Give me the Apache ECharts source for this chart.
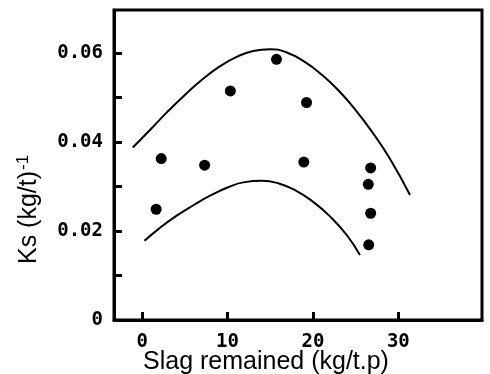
<!DOCTYPE html>
<html>
<head>
<meta charset="utf-8">
<script src="https://cdn.jsdelivr.net/npm/echarts@6/dist/echarts.min.js"></script>
<style>
html,body{margin:0;padding:0;background:#fff;}
#chart{width:490px;height:374px;}
</style>
</head>
<body>
<div id="chart"></div>
<script>
// Data
const pointsX = [1.64, 2.23, 7.31, 10.33, 15.73, 19.25, 18.93, 26.76, 26.48, 26.76, 26.53];
const pointsY = [0.0249, 0.0363, 0.0348, 0.0515, 0.0586, 0.0489, 0.0355, 0.0342, 0.0305, 0.0240, 0.0169];

const upperX = [-1.1, 1, 3, 5, 7, 9, 11, 13, 15, 17, 19, 21, 23, 25, 27, 29, 31.37];
const upperY = [0.0388, 0.0429, 0.0469, 0.0506, 0.0540, 0.0569, 0.0591, 0.0605, 0.0609, 0.0601, 0.0581, 0.0552, 0.0516, 0.0472, 0.0421, 0.0363, 0.0281];

const lowerX = [0.27, 2, 4, 6, 8, 10, 12, 14, 16, 18, 20, 22, 24, 25.5];
const lowerY = [0.0178, 0.0206, 0.0234, 0.0258, 0.0280, 0.0298, 0.0310, 0.0313, 0.0307, 0.0291, 0.0266, 0.0233, 0.0190, 0.0146];

const xTickValues = [0, 10, 20, 30];
const yTickValues = [0, 0.01, 0.02, 0.03, 0.04, 0.05, 0.06];
const yLabelValues = [0, 0.02, 0.04, 0.06];

const xTitle = 'Slag remained (kg/t.p)';
const yTitle = 'Ks (kg/t)';
const yTitleSup = '-1';

const zip = (a, b) => a.map((v, i) => [v, b[i]]);

const chart = echarts.init(document.getElementById('chart'), null, {renderer: 'canvas'});
const labelFont = {fontFamily: 'DejaVu Sans Mono', fontSize: 19, fontWeight: 'bold', color: '#000'};

chart.setOption({
  animation: false,
  backgroundColor: '#fff',
  grid: {left: 114, right: 8, top: 10, bottom: 54, show: true, borderColor: '#000', borderWidth: 3, backgroundColor: 'transparent'},
  xAxis: {
    type: 'value', min: -3.3, max: 39.8,
    splitLine: {show: false},
    axisLine: {show: true, onZero: false, lineStyle: {color: '#000', width: 3}},
    axisTick: {show: true, inside: true, length: 8, lineStyle: {color: '#000', width: 3}, customValues: xTickValues},
    axisLabel: Object.assign({margin: 13, customValues: xTickValues, formatter: v => String(v)}, labelFont)
  },
  yAxis: {
    type: 'value', min: 0, max: 0.0697,
    splitLine: {show: false},
    axisLine: {show: true, onZero: false, lineStyle: {color: '#000', width: 3}},
    axisTick: {show: true, inside: true, length: 8, lineStyle: {color: '#000', width: 3}, customValues: yTickValues},
    axisLabel: Object.assign({margin: 11, customValues: yLabelValues, formatter: v => (Math.abs(v) < 1e-9 ? '0' : v.toFixed(2))}, labelFont)
  },
  graphic: [
    {
      type: 'text', left: 143, top: 350,
      style: {text: xTitle, fontFamily: 'Liberation Sans', fontSize: 25, fill: '#000'}
    },
    {
      type: 'text', x: 15, y: 264, rotation: Math.PI / 2,
      style: {
        text: '{a|' + yTitle + '}{b|' + yTitleSup + '}',
        rich: {
          a: {fontFamily: 'Liberation Sans', fontSize: 25, fill: '#000'},
          b: {fontFamily: 'Liberation Sans', fontSize: 17, fill: '#000', verticalAlign: 'top', padding: [0, 0, 12, 1]}
        },
        verticalAlign: 'top', align: 'left'
      }
    }
  ],
  series: [
    {
      type: 'line', data: zip(upperX, upperY), smooth: 0.5, showSymbol: false, symbol: 'none',
      lineStyle: {color: '#000', width: 2}, silent: true
    },
    {
      type: 'line', data: zip(lowerX, lowerY), smooth: 0.5, showSymbol: false, symbol: 'none',
      lineStyle: {color: '#000', width: 2}, silent: true
    },
    {
      type: 'scatter', data: zip(pointsX, pointsY), symbol: 'circle', symbolSize: 11,
      itemStyle: {color: '#000', opacity: 1}
    }
  ]
});
</script>
</body>
</html>
